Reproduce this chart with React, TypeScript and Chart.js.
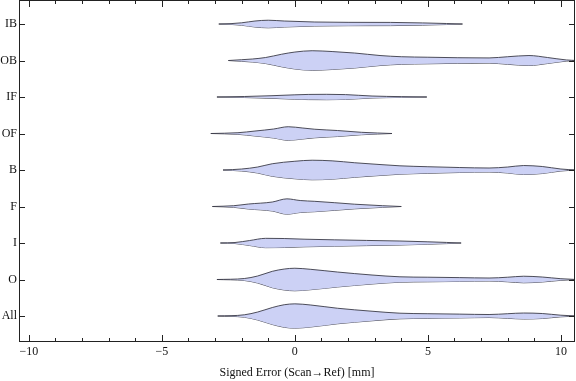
import { useEffect, useRef } from 'react';
import { Chart, registerables } from 'chart.js';

Chart.register(...registerables);

// Categories listed bottom to top (index = y value)
const categories = ['All', 'O', 'I', 'F', 'B', 'OF', 'IF', 'OB', 'IB'];

const xTickValues = [-10, -5, 0, 5, 10];

// Violin profiles: sample x positions [mm] and half-widths (category units)
const xsIB = [-2.86, -2.4, -2.0, -1.5, -1.0, -0.4, 0.75, 2.0, 3.6, 4.8, 5.7, 6.3];
const hwIB = [0, 0.011, 0.033, 0.082, 0.104, 0.082, 0.055, 0.046, 0.044, 0.03, 0.014, 0];

const xsOB = [-2.5, -2.0, -1.6, -1.1, -0.5, 0.0, 0.65, 1.4, 2.25, 3.2, 4.0, 5.0, 6.1, 7.3, 8.0, 8.8, 9.5, 10.2, 10.6];
const hwOB = [0, 0.022, 0.041, 0.082, 0.172, 0.232, 0.268, 0.246, 0.205, 0.137, 0.104, 0.09, 0.077, 0.071, 0.104, 0.137, 0.082, 0.016, 0];

const xsIF = [-2.93, -1.9, -0.86, 0.0, 0.5, 1.2, 1.9, 2.9, 4.0, 4.96];
const hwIF = [0, 0.014, 0.036, 0.06, 0.071, 0.074, 0.066, 0.027, 0.011, 0];

const xsOF = [-3.16, -2.14, -1.5, -0.8, -0.25, 0.3, 0.75, 1.6, 2.5, 3.1, 3.65];
const hwOF = [0, 0.022, 0.068, 0.123, 0.186, 0.15, 0.117, 0.082, 0.033, 0.014, 0];

const xsB = [-2.7, -2.0, -1.4, -0.85, 0.0, 0.65, 1.4, 2.25, 3.2, 3.95, 5.0, 6.2, 7.3, 8.0, 8.6, 9.3, 10.0, 10.6];
const hwB = [0, 0.027, 0.082, 0.172, 0.24, 0.268, 0.251, 0.199, 0.15, 0.115, 0.09, 0.068, 0.055, 0.082, 0.123, 0.096, 0.027, 0];

const xsF = [-3.1, -2.3, -1.75, -0.85, -0.3, 0.2, 0.75, 1.5, 2.25, 3.3, 4.0];
const hwF = [0, 0.022, 0.068, 0.123, 0.21, 0.164, 0.142, 0.104, 0.063, 0.022, 0];

const xsI = [-2.8, -2.25, -1.7, -1.1, -0.4, 0.38, 1.5, 2.7, 3.95, 5.0, 5.7, 6.25];
const hwI = [0, 0.014, 0.068, 0.128, 0.123, 0.104, 0.087, 0.071, 0.055, 0.033, 0.016, 0];

const xsO = [-2.93, -1.9, -1.4, -0.85, -0.4, 0.0, 0.6, 1.6, 2.9, 3.95, 5.0, 6.2, 7.3, 8.0, 8.6, 9.3, 10.0, 10.6];
const hwO = [0, 0.027, 0.096, 0.224, 0.287, 0.309, 0.279, 0.205, 0.123, 0.074, 0.063, 0.052, 0.041, 0.063, 0.09, 0.068, 0.022, 0];

const xsAll = [-2.9, -1.9, -1.4, -0.85, -0.4, 0.0, 0.6, 1.6, 2.9, 3.95, 5.0, 6.2, 7.3, 8.0, 8.6, 9.3, 10.0, 10.6];
const hwAll = [0, 0.033, 0.109, 0.232, 0.309, 0.333, 0.301, 0.213, 0.131, 0.077, 0.063, 0.052, 0.041, 0.063, 0.082, 0.068, 0.022, 0];

const profiles: [number[], number[]][] = [
  [xsAll, hwAll],
  [xsO, hwO],
  [xsI, hwI],
  [xsF, hwF],
  [xsB, hwB],
  [xsOF, hwOF],
  [xsIF, hwIF],
  [xsOB, hwOB],
  [xsIB, hwIB],
];

const FILL = 'rgb(204, 209, 245)';
const EDGE = 'rgba(60, 60, 72, 0.9)';

const frameTicks = {
  id: 'frameTicks',
  afterDatasetsDraw(chart: any) {
    const { ctx, chartArea: a, scales } = chart;
    const x = scales.x;
    const y = scales.y;
    ctx.save();
    ctx.strokeStyle = '#222';
    ctx.lineWidth = 1;
    ctx.beginPath();
    for (let v = -10; v <= 10; v++) {
      const px = Math.round(x.getPixelForValue(v)) + 0.5;
      const len = v % 5 === 0 ? 7 : 4;
      ctx.moveTo(px, a.bottom);
      ctx.lineTo(px, a.bottom - len);
      ctx.moveTo(px, a.top);
      ctx.lineTo(px, a.top + len);
    }
    for (let i = 0; i < categories.length; i++) {
      const py = Math.round(y.getPixelForValue(i)) + 0.5;
      ctx.moveTo(a.left, py);
      ctx.lineTo(a.left + 6, py);
      ctx.moveTo(a.right, py);
      ctx.lineTo(a.right - 6, py);
    }
    ctx.stroke();
    ctx.strokeRect(a.left + 0.5, a.top + 0.5, a.width - 1, a.height - 1);
    ctx.restore();
  },
};

export default function App() {
  const ref = useRef<HTMLCanvasElement>(null);

  useEffect(() => {
    Chart.defaults.font.family = '"Liberation Serif", "Times New Roman", serif';
    Chart.defaults.font.size = 12;
    Chart.defaults.color = '#111';

    const datasets: any[] = [];
    profiles.forEach(([xs, hw], i) => {
      const common = {
        showLine: true,
        pointRadius: 0,
        borderColor: EDGE,
        borderWidth: 1,
        cubicInterpolationMode: 'monotone',
      };
      datasets.push({
        ...common,
        label: categories[i] + ' upper',
        data: xs.map((x, k) => ({ x, y: i + hw[k] })),
        fill: '+1',
        backgroundColor: FILL,
      });
      datasets.push({
        ...common,
        label: categories[i] + ' lower',
        data: xs.map((x, k) => ({ x, y: i - hw[k] })),
        fill: false,
      });
    });

    const chart = new Chart(ref.current!, {
      type: 'scatter',
      data: { datasets },
      options: {
        animation: false,
        responsive: true,
        maintainAspectRatio: false,
        layout: { padding: { left: 0, right: 1, top: 0, bottom: 0 } },
        plugins: {
          legend: { display: false },
          tooltip: { enabled: false },
        },
        scales: {
          x: {
            type: 'linear',
            min: -10.37,
            max: 10.53,
            grid: { display: false, drawTicks: false },
            border: { display: false },
            afterBuildTicks: (s: any) => {
              s.ticks = xTickValues.map((v) => ({ value: v }));
            },
            afterFit: (s: any) => {
              s.height = 39;
              s.paddingLeft = 0;
              s.paddingRight = 0;
            },
            ticks: {
              padding: 3,
              maxRotation: 0,
              autoSkip: false,
              callback: (v: any) => (Number(v) < 0 ? '\u2212' + Math.abs(Number(v)) : String(v)),
            },
            title: {
              display: true,
              text: 'Signed Error (Scan\u2192Ref) [mm]',
              padding: { top: 0, bottom: 1 },
              font: { size: 12 },
            },
          },
          y: {
            type: 'linear',
            min: -0.712,
            max: 8.658,
            grid: { display: false, drawTicks: false },
            border: { display: false },
            afterBuildTicks: (s: any) => {
              s.ticks = categories.map((_, i) => ({ value: i }));
            },
            afterFit: (s: any) => {
              s.width = 19;
              s.paddingTop = 0;
              s.paddingBottom = 0;
            },
            ticks: {
              padding: 2,
              autoSkip: false,
              callback: (v: any) => categories[Math.round(Number(v))] ?? '',
            },
          },
        },
      },
      plugins: [frameTicks],
    });
    return () => chart.destroy();
  }, []);

  return (
    <div style={{ position: 'fixed', left: 0, top: 0, width: 576, height: 381 }}>
      <canvas ref={ref} />
    </div>
  );
}
